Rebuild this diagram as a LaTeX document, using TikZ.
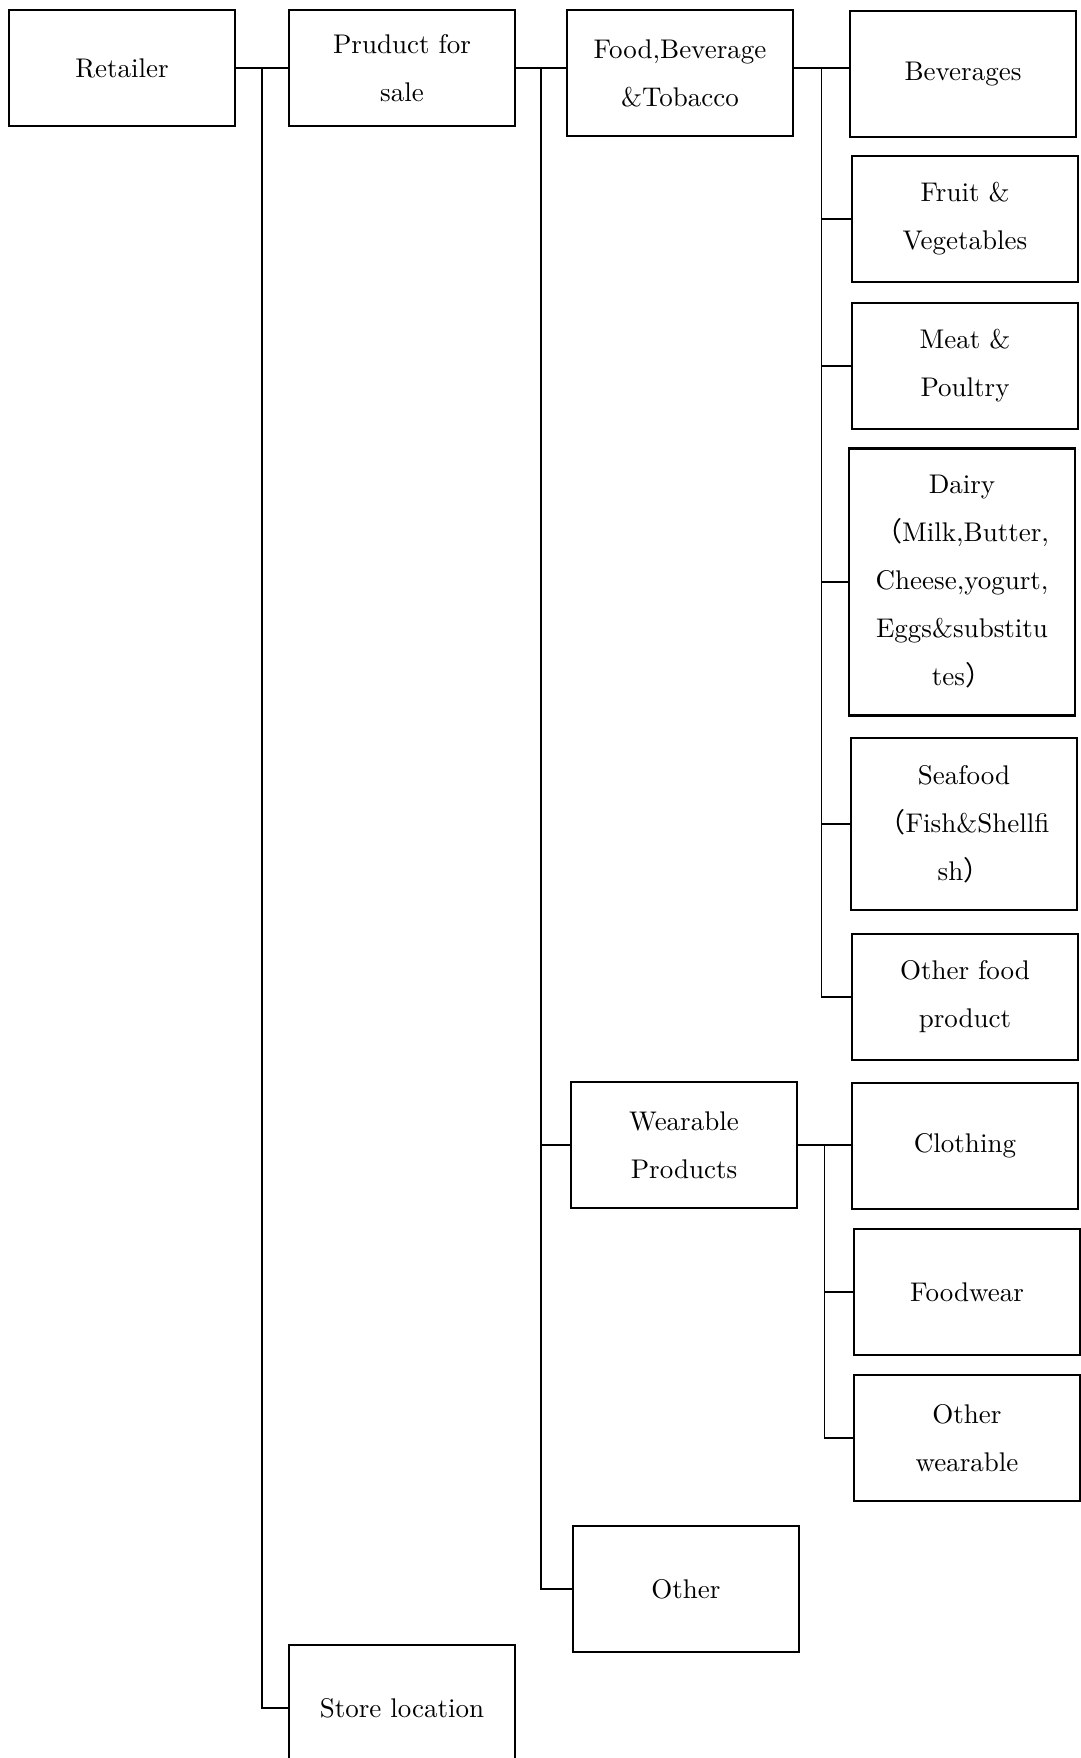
\documentclass[tikz,border=0pt]{standalone}
\usepackage{fontspec}
\usepackage{tikz}
\usetikzlibrary{calc}
\setmainfont{lmroman10-regular.otf}
\newfontfamily\cjkfont{Noto Sans CJK JP}
\newcommand{\lpar}{{\cjkfont （}}
\newcommand{\rpar}{{\cjkfont ）}}

\begin{document}
\begin{tikzpicture}[x=1pt,y=-1pt,
    every node/.style={font=\fontsize{27}{48}\selectfont, align=center},
    box/.style={draw, line width=2.4pt, minimum width=226, minimum height=126, inner sep=0pt},
    link/.style={line width=1.9pt},
    stub/.style={line width=1.1pt}]
  \useasboundingbox (0,0) rectangle (1080,1758);
  \node[box, minimum height=116] (Ret) at (122,68) {Retailer};
  \node[box, minimum height=116] (Sale) at (402,68) {Pruduct for\\sale};
  \node[box] (Food) at (680,73) {Food,Beverage\\\&Tobacco};
  \node[box] (Bev) at (963,74) {Beverages};
  \node[box] (Fruit) at (965,219) {Fruit \&\\Vegetables};
  \node[box] (Meat) at (965,366) {Meat \&\\Poultry};
  \node[box, minimum height=267] (Dairy) at (962,582)
    {Dairy\\\lpar Milk,Butter,\\Cheese,yogurt,\\Eggs\&substitu\\tes\rpar};
  \node[box, minimum height=172] (Sea) at (964,824) {Seafood\\\lpar Fish\&Shellfi\\sh\rpar};
  \node[box] (OFood) at (965,997) {Other food\\product};
  \node[box] (Wear) at (684,1145) {Wearable\\Products};
  \node[box] (Cloth) at (965,1146) {Clothing};
  \node[box] (Foot) at (967,1292) {Foodwear};
  \node[box] (OWear) at (967,1438) {Other\\wearable};
  \node[box] (Other) at (686,1589) {Other};
  \node[box] (Store) at (402,1708) {Store location};
  % joints of the trunks
  \coordinate (jA) at ($(Ret.east)!.5!(Sale.west)$);
  \coordinate (jB) at ($(Sale.east)!.5!(Food.west |- Sale.east)$);
  \coordinate (jC) at ($(Food.east |- Sale.east)!.5!(Bev.west |- Sale.east)$);
  \coordinate (jD) at ($(Wear.east)!.5!(Cloth.west |- Wear.east)$);
  \draw[link] (Ret.east) -- (Sale.west);
  \draw[link] (Sale.east) -- (Food.west |- Sale.east);
  \draw[link] (Food.east |- Sale.east) -- (Bev.west |- Sale.east);
  \draw[link] (Wear.east) -- (Cloth.west |- Wear.east);
  \draw[stub] (jA) |- (Store.west);
  \draw[stub] (jB) |- (Wear.west);
  \draw[stub] (jB) |- (Other.west);
  \draw[link] (jC) -- (jC |- Dairy.west);
  \draw[stub] (jC) |- (Fruit.west);
  \draw[stub] (jC) |- (Meat.west);
  \draw[stub] (jC) |- (Dairy.west);
  \draw[stub] (jC) |- (Sea.west);
  \draw[stub] (jC) |- (OFood.west);
  \draw[stub] (jD) |- (Foot.west);
  \draw[stub] (jD) |- (OWear.west);
\end{tikzpicture}
\end{document}
